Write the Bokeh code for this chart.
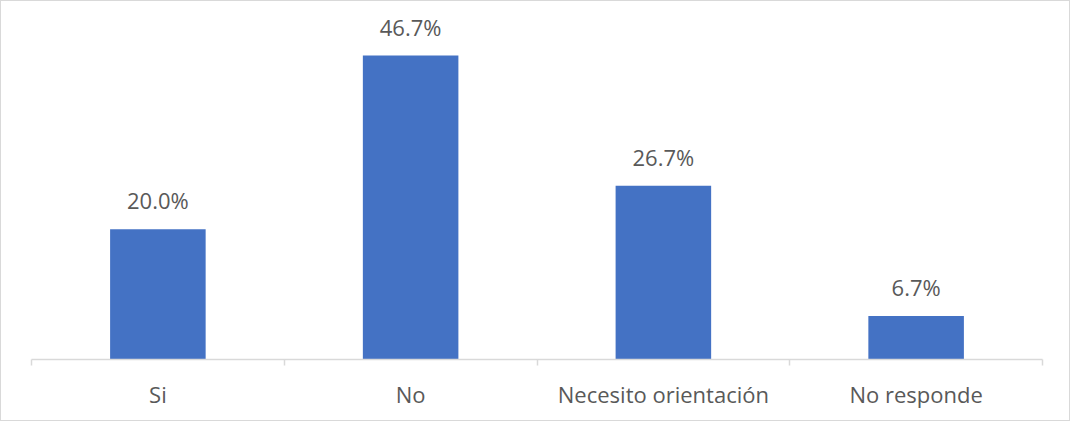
from bokeh.plotting import figure
from bokeh.models import ColumnDataSource, FixedTicker, Range1d, LabelSet
from bokeh.core.properties import value
from bokeh.embed import file_html
from bokeh.resources import INLINE

categories = ["Si", "No", "Necesito orientación", "No responde"]
values = [20.0, 46.7, 26.7, 6.7]
value_labels = ["20.0%", "46.7%", "26.7%", "6.7%"]

xs = [i + 0.5 for i in range(len(categories))]
src = ColumnDataSource(dict(x=xs, top=values, lab=value_labels))

p = figure(width=1070, height=421, output_backend="svg", toolbar_location=None,
           x_range=Range1d(0, len(categories)), y_range=Range1d(0, 55.0),
           min_border_left=30, min_border_right=29, min_border_top=0, min_border_bottom=63)
p.styles = {"border": "1px solid #d9d9d9"}
p.outline_line_color = None
p.background_fill_color = "white"
p.border_fill_color = "white"
p.grid.visible = False
p.yaxis.visible = False

p.vbar(x="x", top="top", width=0.378, bottom=0, source=src, fill_color="#4472C4", line_color=None)

labels = LabelSet(x="x", y="top", text="lab", source=src, text_align="center",
                  text_baseline="alphabetic", y_offset=20, text_font=value("Open Sans"),
                  text_font_size="22px", text_color="#595959")
p.add_layout(labels)

ax = p.xaxis[0]
ax.ticker = FixedTicker(ticks=xs, minor_ticks=list(range(len(categories) + 1)))
ax.major_label_overrides = {x: c for x, c in zip(xs, categories)}
ax.major_tick_line_color = None
ax.minor_tick_line_color = "#d9d9d9"
ax.minor_tick_out = 6
ax.minor_tick_in = 0
ax.axis_line_color = "#d9d9d9"
ax.axis_line_width = 1.5
ax.minor_tick_line_width = 1.5
ax.major_label_text_font = "Open Sans"
ax.major_label_text_font_size = "22px"
ax.major_label_text_color = "#595959"
ax.major_label_standoff = 13

open("out.html", "w").write(file_html(p, INLINE))
